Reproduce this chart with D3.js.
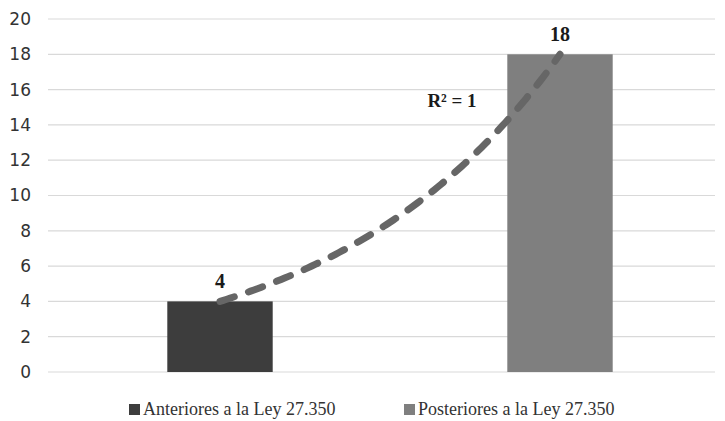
<!DOCTYPE html>
<html><head><meta charset="utf-8">
<script src="https://cdn.jsdelivr.net/npm/d3@7"></script>
<style>body{margin:0;background:#fff}svg{display:block}</style>
</head><body>
<svg id="c" width="725" height="421"></svg>
<script>
const categories = ["Anteriores a la Ley 27.350", "Posteriores a la Ley 27.350"];
const values = [4, 18];
const colors = ["#3d3d3d", "#7f7f7f"];
const yTicks = [0, 2, 4, 6, 8, 10, 12, 14, 16, 18, 20];
const r2Label = "R² = 1";

const svg = d3.select("#c");
const W = 725, H = 421;
const m = {left: 50, right: -5, top: 19, bottom: 49};
const x = d3.scaleBand().domain(categories).range([m.left, W - m.right]).paddingInner(0.69).paddingOuter(0.345);
const y = d3.scaleLinear().domain([0, 20]).range([H - m.bottom, m.top]);

// gridlines
svg.append("g").selectAll("line").data(yTicks).join("line")
  .attr("x1", 48).attr("x2", 715)
  .attr("y1", d => y(d)).attr("y2", d => y(d))
  .attr("stroke", "#d9d9d9").attr("stroke-width", 1.2);

// y axis
const ya = svg.append("g").attr("transform", `translate(31,0)`)
  .call(d3.axisLeft(y).tickValues(yTicks).tickSize(0).tickPadding(0));
ya.select(".domain").remove();
ya.selectAll("text").attr("font-family", "'DejaVu Sans', sans-serif").attr("font-size", 17).attr("fill", "#333");

// bars
svg.append("g").selectAll("rect").data(values).join("rect")
  .attr("x", (d, i) => x(categories[i]))
  .attr("width", x.bandwidth())
  .attr("y", d => y(d))
  .attr("height", d => y(0) - y(d))
  .attr("fill", (d, i) => colors[i]);

// exponential trendline through the points (x=1,2)
const b = Math.log(values[1] / values[0]);
const a = values[0] / Math.exp(b);
const cx = d3.scaleLinear().domain([1, 2]).range([x(categories[0]) + x.bandwidth() / 2, x(categories[1]) + x.bandwidth() / 2]);
const pts = d3.range(1, 2.0001, 0.01).map(t => [cx(t), y(a * Math.exp(b * t))]);
svg.append("path").attr("d", d3.line()(pts))
  .attr("fill", "none").attr("stroke", "#666").attr("stroke-width", 7)
  .attr("stroke-linecap", "round").attr("stroke-dasharray", "15,15");

// data labels
svg.append("g").selectAll("text").data(values).join("text")
  .attr("x", (d, i) => x(categories[i]) + x.bandwidth() / 2)
  .attr("y", d => y(d) - 13)
  .attr("text-anchor", "middle")
  .attr("font-family", "'Liberation Serif', serif").attr("font-weight", "bold").attr("font-size", 20)
  .attr("fill", "#1a1a1a").text(d => d);

svg.append("text").attr("x", 452).attr("y", 107).attr("text-anchor", "middle")
  .attr("font-family", "'Liberation Serif', serif").attr("font-weight", "bold").attr("font-size", 19)
  .attr("fill", "#1a1a1a").text(r2Label);

// legend
const leg = svg.append("g");
const legX = [129, 404];
categories.forEach((c, i) => {
  leg.append("rect").attr("x", legX[i]).attr("y", 404).attr("width", 11).attr("height", 11).attr("fill", colors[i]);
  leg.append("text").attr("x", legX[i] + 14).attr("y", 415)
    .attr("font-family", "'Liberation Serif', serif").attr("font-size", 18).attr("fill", "#333").text(c);
});
</script>
</body></html>
